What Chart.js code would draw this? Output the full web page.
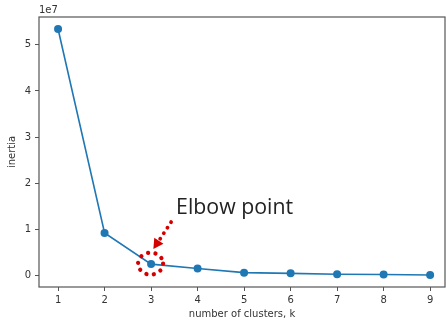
<!DOCTYPE html>
<html>
<head>
<meta charset="utf-8">
<script src="https://cdn.jsdelivr.net/npm/chart.js@4.4.0/dist/chart.umd.min.js"></script>
<style>
  html, body { margin: 0; padding: 0; background: #fff; }
  canvas { display: block; }
</style>
</head>
<body>
<canvas id="myChart" width="446" height="324"></canvas>
<script>
const canvas = document.getElementById('myChart');
const ctx = canvas.getContext('2d');

// k values and inertia
const clusters = [1, 2, 3, 4, 5, 6, 7, 8, 9];
const inertia = [53400000, 9300000, 2550000, 1600000, 700000, 550000, 350000, 300000, 200000];
const yTicks = [0, 10000000, 20000000, 30000000, 40000000, 50000000];
const elbowK = 3;

const points = clusters.map((k, i) => ({ x: k, y: inertia[i] }));

Chart.defaults.font.family = 'DejaVu Sans';
Chart.defaults.font.size = 10;
Chart.defaults.color = '#333';

const spineColor = '#555';

const extras = {
    id: 'extras',
    afterDraw(chart) {
        const c = chart.ctx;
        const a = chart.chartArea;
        const xs = chart.scales.x;
        const ys = chart.scales.y;

        // frame
        c.save();
        c.strokeStyle = spineColor;
        c.lineWidth = 1.2;
        c.strokeRect(a.left, a.top, a.right - a.left, a.bottom - a.top);

        // offset text
        c.fillStyle = '#333';
        c.font = '10px "DejaVu Sans"';
        c.textBaseline = 'middle';
        c.textAlign = 'left';
        c.fillText('1e7', a.left, a.top - 7);

        // elbow marking
        const idx = clusters.indexOf(elbowK);
        const px = xs.getPixelForValue(elbowK);
        const py = ys.getPixelForValue(inertia[idx]);
        const red = '#d40000';

        c.strokeStyle = red;
        c.fillStyle = red;
        c.lineWidth = 4.2;
        c.lineCap = 'round';
        c.setLineDash([0.1, 7.4]);
        c.beginPath();
        c.ellipse(px - 0.5, py - 0.5, 12.5, 11, 0, 0, Math.PI * 2);
        c.stroke();

        // dotted arrow
        const tx = px + 2.3, ty = py - 15;
        const sx = px + 20, sy = py - 42;
        const dx = tx - sx, dy = ty - sy;
        const len = Math.hypot(dx, dy);
        const ux = dx / len, uy = dy / len;
        const bx = tx - ux * 10, by = ty - uy * 10;
        c.lineWidth = 3.8;
        c.setLineDash([0.1, 6.5]);
        c.beginPath();
        c.moveTo(sx, sy);
        c.lineTo(bx, by);
        c.stroke();
        c.setLineDash([]);
        c.beginPath();
        c.moveTo(tx, ty);
        c.lineTo(bx + uy * 5.5, by - ux * 5.5);
        c.lineTo(bx - uy * 5.5, by + ux * 5.5);
        c.closePath();
        c.fill();

        // label
        c.fillStyle = '#222';
        c.font = '22px "Open Sans"';
        c.textBaseline = 'alphabetic';
        const label = 'Elbow point';
        const w = c.measureText(label).width;
        const lx = px + 25, ly = py - 50;
        c.translate(lx, ly);
        c.scale(117 / w, 1);
        c.fillText(label, 0, 0);
        c.restore();
    }
};

var myChart = new Chart(ctx, {
    type: 'line',
    data: {
        datasets: [{
            label: 'inertia',
            data: points,
            borderColor: '#1f77b4',
            backgroundColor: '#1f77b4',
            borderWidth: 1.6,
            pointRadius: 4,
            pointBorderWidth: 0,
            tension: 0
        }]
    },
    options: {
        responsive: false,
        animation: false,
        devicePixelRatio: 1,
        layout: { autoPadding: false, padding: { top: 17, right: 1, left: 0, bottom: 0 } },
        plugins: {
            legend: { display: false },
            tooltip: { enabled: false }
        },
        scales: {
            x: {
                type: 'linear',
                min: 0.59,
                max: 9.32,
                afterBuildTicks: s => { s.ticks = clusters.map(v => ({ value: v })); },
                afterFit: s => { s.height = 37; s.paddingLeft = 0; s.paddingRight = 0; },
                ticks: { padding: 3, color: '#333', callback: v => String(v) },
                grid: { drawOnChartArea: false, tickLength: 4, color: spineColor },
                border: { display: false },
                title: { display: true, text: 'number of clusters, k', color: '#333', padding: { top: 2, bottom: 4 } }
            },
            y: {
                min: -2400000,
                max: 56000000,
                afterBuildTicks: s => { s.ticks = yTicks.map(v => ({ value: v })); },
                afterFit: s => { s.width = 39; s.paddingTop = 0; s.paddingBottom = 0; },
                ticks: { padding: 4, color: '#333', callback: v => String(v / 10000000) },
                grid: { drawOnChartArea: false, tickLength: 4, color: spineColor },
                border: { display: false },
                title: { display: true, text: 'inertia', color: '#333', padding: { top: 6, bottom: 0 } }
            }
        }
    },
    plugins: [extras]
});
</script>
</body>
</html>
